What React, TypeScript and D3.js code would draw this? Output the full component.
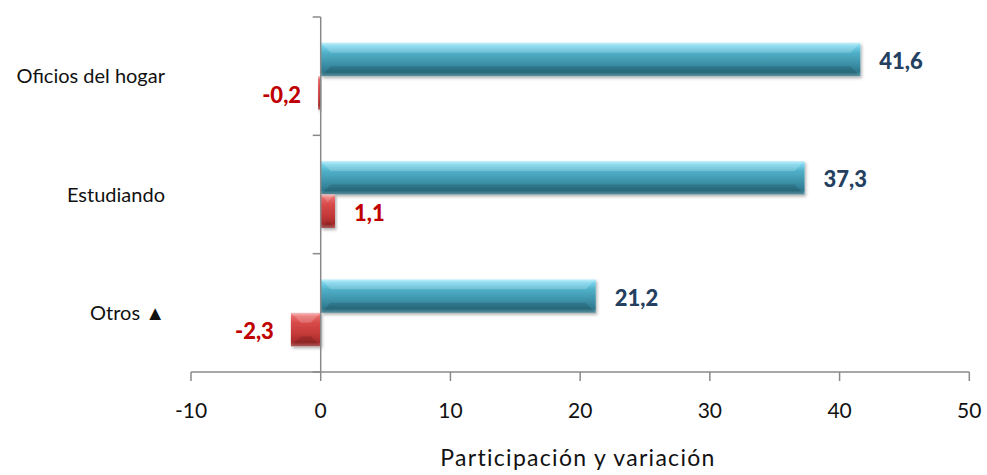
import React from "react";
import * as d3 from "d3";

const categories = ["Oficios del hogar", "Estudiando", "Otros ▲"];
const participacion = [41.6, 37.3, 21.2];
const variacion = [-0.2, 1.1, -2.3];
const xTicks = [-10, 0, 10, 20, 30, 40, 50];
const axisTitle = "Participación y variación";

const W = 987;
const H = 475;

export default function App() {
  const x = d3.scaleLinear().domain([-10, 50]).range([191, 969.3]);
  const y = d3.scaleBand<string>().domain(categories).range([17, 372]).padding(0);
  const series = ["p", "v"];
  const fmt = (v: number) => d3.format(".1f")(v).replace(".", ",").replace("\u2212", "-");
  const axisColor = "#8a8a8a";
  const font = "Lato, 'Open Sans', sans-serif";
  const yTickPos = [...categories.map((c) => y(c)!), 372];

  const bars: any[] = [];
  categories.forEach((c, i) => {
    const b0 = y(c)!;
    const bw = y.bandwidth();
    const pad = 25.7;
    const inner = d3.scaleBand<string>().domain(series).range([b0 + pad, b0 + bw - pad]).padding(0);
    [participacion[i], variacion[i]].forEach((v, j) => {
      bars.push({ cat: c, s: series[j], v, y0: inner(series[j])!, h: inner.bandwidth() });
    });
  });

  return (
    <svg width={W} height={H} style={{ position: "absolute", left: 0, top: 0, background: "#fff" }}>
      <defs>
        <linearGradient id="gBlue" x1="0" y1="0" x2="0" y2="1">
          <stop offset="0" stopColor="#b5ecf8" />
          <stop offset="0.1" stopColor="#78d4ec" />
          <stop offset="0.3" stopColor="#50b0c8" />
          <stop offset="0.65" stopColor="#3b8fa6" />
          <stop offset="0.88" stopColor="#2d778c" />
          <stop offset="1" stopColor="#6aa6b6" />
        </linearGradient>
        <linearGradient id="gRed" x1="0" y1="0" x2="0" y2="1">
          <stop offset="0" stopColor="#f5b0b0" />
          <stop offset="0.1" stopColor="#e86a6a" />
          <stop offset="0.3" stopColor="#d84a4a" />
          <stop offset="0.65" stopColor="#c23838" />
          <stop offset="0.88" stopColor="#a32a2a" />
          <stop offset="1" stopColor="#c46a6a" />
        </linearGradient>
        <filter id="shadow" x="-10%" y="-20%" width="130%" height="160%">
          <feDropShadow dx="1.5" dy="2" stdDeviation="1.5" floodColor="#000" floodOpacity="0.3" />
        </filter>
      </defs>

      {bars.map((b, k) => {
        const x0 = x(Math.min(0, b.v));
        const x1 = x(Math.max(0, b.v));
        const w = Math.max(x1 - x0, 1.5);
        const isBlue = b.s === "p";
        const bevel = Math.min(10, w / 2, b.h / 3);
        return (
          <g key={k} filter="url(#shadow)">
            <rect x={x0} y={b.y0} width={w} height={b.h} fill={isBlue ? "url(#gBlue)" : "url(#gRed)"} />
            <path
              d={`M${x0},${b.y0}L${x0 + bevel},${b.y0 + bevel}L${x1 - bevel},${b.y0 + bevel}L${x1},${b.y0}Z`}
              fill="#ffffff"
              opacity={0.18}
            />
            <path
              d={`M${x0},${b.y0 + b.h}L${x0 + bevel},${b.y0 + b.h - bevel}L${x1 - bevel},${b.y0 + b.h - bevel}L${x1},${b.y0 + b.h}Z`}
              fill="#000"
              opacity={0.12}
            />
          </g>
        );
      })}

      {/* axes */}
      <line x1={x(0)} x2={x(0)} y1={17} y2={372} stroke={axisColor} strokeWidth={1.5} />
      {yTickPos.map((t, i) => (
        <line key={i} x1={x(0) - 8} x2={x(0)} y1={t} y2={t} stroke={axisColor} strokeWidth={1.5} />
      ))}
      <line x1={x(-10)} x2={x(50)} y1={372} y2={372} stroke={axisColor} strokeWidth={1.5} />
      {xTicks.map((t) => (
        <g key={t}>
          <line x1={x(t)} x2={x(t)} y1={372} y2={381} stroke={axisColor} strokeWidth={1.5} />
          <text x={x(t)} y={418} textAnchor="middle" fontFamily={font} fontSize={21} fill="#111">
            {t}
          </text>
        </g>
      ))}

      {/* category labels */}
      {categories.map((c) => (
        <text
          key={c}
          x={165}
          y={y(c)! + y.bandwidth() / 2}
          dy="0.35em"
          textAnchor="end"
          fontFamily={font}
          fontSize={20}
          fill="#111"
        >
          {c}
        </text>
      ))}

      {/* value labels */}
      {bars.map((b, k) => {
        const isBlue = b.s === "p";
        const neg = b.v < 0;
        const xe = x(b.v);
        return (
          <text
            key={k}
            x={neg ? xe - 17 : xe + 19}
            y={b.y0 + b.h / 2 + 2}
            dy="0.35em"
            textAnchor={neg ? "end" : "start"}
            fontFamily={font}
            fontWeight="900"
            fontSize={22}
            fill={isBlue ? "#243f60" : "#c00000"}
          >
            {fmt(b.v)}
          </text>
        );
      })}

      <text x={578} y={466} textAnchor="middle" fontFamily={font} fontSize={23} letterSpacing={1.3} fill="#111">
        {axisTitle}
      </text>
    </svg>
  );
}
